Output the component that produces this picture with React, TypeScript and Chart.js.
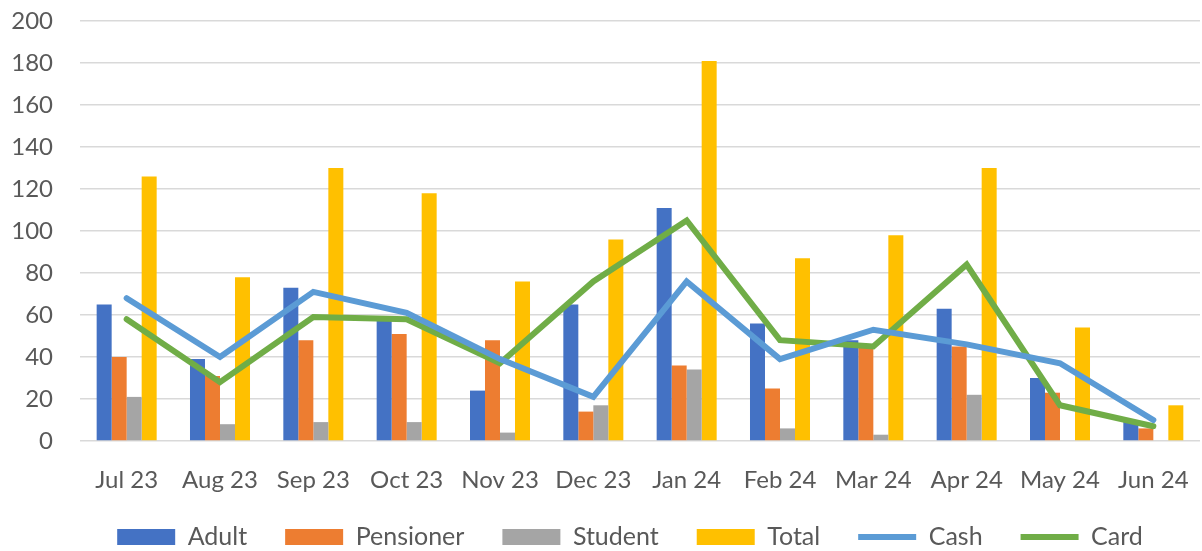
import React, { useEffect, useRef } from "react";
import { Chart, registerables } from "chart.js";

Chart.register(...registerables);

const categories = ["Jul 23", "Aug 23", "Sep 23", "Oct 23", "Nov 23", "Dec 23", "Jan 24", "Feb 24", "Mar 24", "Apr 24", "May 24", "Jun 24"];
const adult = [65, 39, 73, 58, 24, 65, 111, 56, 48, 63, 30, 10];
const pensioner = [40, 31, 48, 51, 48, 14, 36, 25, 46, 45, 23, 6];
const student = [21, 8, 9, 9, 4, 17, 34, 6, 3, 22, 0, 0];
const total = [126, 78, 130, 118, 76, 96, 181, 87, 98, 130, 54, 17];
const cash = [68, 40, 71, 61, 39, 21, 76, 39, 53, 46, 37, 10];
const card = [58, 28, 59, 58, 37, 76, 105, 48, 45, 84, 17, 7];
const yTicks = [0, 20, 40, 60, 80, 100, 120, 140, 160, 180, 200];

const FONT = "Lato, 'Open Sans', sans-serif";
const TEXT = "#595959";

const layoutFix = {
  id: "layoutFix",
  afterLayout(chart: any) {
    const lg = chart.legend;
    if (lg) {
      lg.left += 30;
      lg.right += 30;
    }
    const x = chart.scales.x;
    if (x) x.bottom = x.top + 62;
  },
};

export default function App() {
  const ref = useRef<HTMLCanvasElement | null>(null);
  useEffect(() => {
    if (!ref.current) return;
    const bar = (label: string, data: number[], color: string) => ({
      type: "bar" as const,
      label,
      data,
      backgroundColor: color,
      borderWidth: 0,
      order: 1,
      pointStyle: "rect" as const,
      categoryPercentage: 0.643,
      barPercentage: 1,
    });
    const line = (label: string, data: number[], color: string) => ({
      type: "line" as const,
      label,
      data,
      borderColor: color,
      backgroundColor: color,
      borderWidth: 6,
      borderCapStyle: "round",
      pointRadius: 0,
      pointStyle: "line" as const,
      tension: 0,
      order: 0,
    });
    const chart = new Chart(ref.current, {
      type: "bar",
      data: {
        labels: categories,
        datasets: [
          bar("Adult", adult, "#4472C4"),
          bar("Pensioner", pensioner, "#ED7D31"),
          bar("Student", student, "#A5A5A5"),
          bar("Total", total, "#FFC000"),
          line("Cash", cash, "#5B9BD5"),
          line("Card", card, "#70AD47"),
        ] as any,
      },
      plugins: [layoutFix],
      options: {
        animation: false,
        responsive: false,
        maintainAspectRatio: false,
        layout: { padding: { left: 0, right: 2, top: 21, bottom: 0 } },
        plugins: {
          tooltip: { enabled: false },
          legend: {
            position: "bottom",
            maxHeight: 64.5,
            labels: {
              sort: (a: any, b: any) => a.datasetIndex - b.datasetIndex,
              usePointStyle: true,
              pointStyleWidth: 58,
              boxHeight: 16,
              padding: 38,
              color: TEXT,
              font: { family: FONT, size: 25 },
            },
          },
        },
        scales: {
          x: {
            grid: { display: false },
            border: { display: false },
            ticks: { color: TEXT, font: { family: FONT, size: 24 }, padding: 17, maxRotation: 0, autoSkip: false },
            afterFit: (s: any) => {
              s.height = 45.5;
              s.paddingLeft = 0;
              s.paddingRight = 0;
            },
          },
          y: {
            min: 0,
            max: 200,
            afterBuildTicks: (s: any) => { s.ticks = yTicks.map((v) => ({ value: v })); },
            grid: { color: "#D9D9D9", lineWidth: 1.5, drawTicks: false },
            border: { display: false },
            ticks: { color: TEXT, font: { family: FONT, size: 24 }, padding: 27 },
            afterFit: (s: any) => {
              s.width = 80;
              s.paddingTop = 0;
              s.paddingBottom = 0;
            },
          },
        },
      } as any,
    });
    return () => chart.destroy();
  }, []);
  return (
    <div style={{ position: "fixed", left: 0, top: 0, width: 1202, height: 551, background: "#fff" }}>
      <canvas ref={ref} width={1202} height={551} style={{ width: 1202, height: 551 }} />
    </div>
  );
}
